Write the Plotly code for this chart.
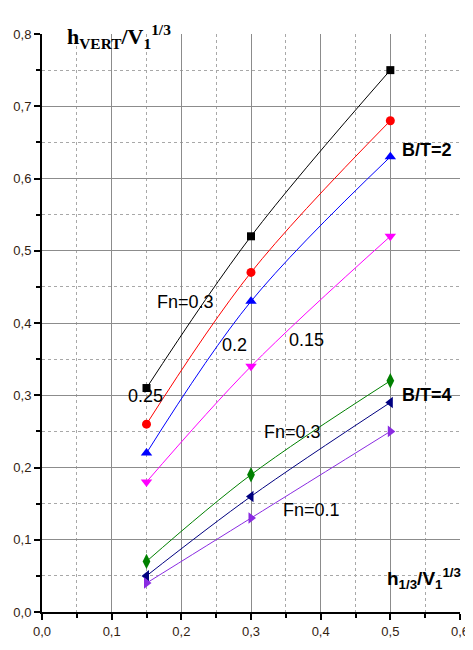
import plotly.graph_objects as go

x_vals = [0.15, 0.3, 0.5]

# B/T = 2 series
bt2_fn030 = [0.31, 0.52, 0.75]
bt2_fn025 = [0.26, 0.47, 0.68]
bt2_fn020 = [0.22, 0.43, 0.63]
bt2_fn015 = [0.18, 0.34, 0.52]

# B/T = 4 series
bt4_fn030 = [0.07, 0.19, 0.32]
bt4_fn020 = [0.05, 0.16, 0.29]
bt4_fn010 = [0.04, 0.13, 0.25]

series = [
    (bt2_fn030, "black", "square", 8),
    (bt2_fn025, "red", "circle", 9),
    (bt2_fn020, "blue", "triangle-up", 10),
    (bt2_fn015, "#ff00ff", "triangle-down", 10),
    (bt4_fn030, "green", "diamond-tall", 11),
    (bt4_fn020, "navy", "triangle-left", 10),
    (bt4_fn010, "#8a2be2", "triangle-right", 10),
]

fig = go.Figure()
for ys, col, sym, sz in series:
    fig.add_trace(go.Scatter(
        x=x_vals, y=ys, mode="lines+markers",
        line=dict(color=col, width=1, shape="spline"),
        marker=dict(symbol=sym, size=sz, color=col),
        showlegend=False,
    ))

ann_font = dict(family="Liberation Sans Narrow, Liberation Sans, Arial", size=18, color="black")
bold_font = dict(family="Liberation Sans, Arial", size=18, color="black")
annotations = [
    dict(x=0.162, y=0.429, text="Fn=0.3", xanchor="left", font=ann_font),
    dict(x=0.255, y=0.37, text="0.2", xanchor="left", font=ann_font),
    dict(x=0.352, y=0.377, text="0.15", xanchor="left", font=ann_font),
    dict(x=0.176, y=0.299, text="0.25", xanchor="right", font=ann_font),
    dict(x=0.316, y=0.249, text="Fn=0.3", xanchor="left", font=ann_font),
    dict(x=0.343, y=0.141, text="Fn=0.1", xanchor="left", font=ann_font),
    dict(x=0.514, y=0.64, text="<b>B/T=2</b>", xanchor="left", font=bold_font),
    dict(x=0.514, y=0.30, text="<b>B/T=4</b>", xanchor="left", font=bold_font),
]
for a in annotations:
    a.update(xref="x", yref="y", showarrow=False, yanchor="middle")
    fig.add_annotation(**a)

fig.add_annotation(
    xref="paper", yref="paper", x=0.055, y=0.995, xanchor="left", yanchor="middle",
    text="<b>h<sub>VERT</sub>/V<sub>1</sub><sup>1/3</sup></b>", showarrow=False,
    font=dict(family="Liberation Serif, Times New Roman", size=22, color="black"),
)
fig.add_annotation(
    xref="paper", yref="paper", x=1.006, y=0.058, xanchor="right", yanchor="middle",
    text="<b>h<sub>1/3</sub>/V<sub>1</sub><sup>1/3</sup></b>", showarrow=False,
    font=dict(family="Liberation Sans, Arial", size=19, color="black"),
)

axis_common = dict(
    showline=True, linecolor="black", linewidth=2, automargin=False,
    ticks="outside", ticklen=6, tickwidth=1.5, tickcolor="black",
    showgrid=True, gridcolor="#8c8c8c", gridwidth=1.3,
    zeroline=False, tickformat=".1f", dtick=0.1, tick0=0,
    tickfont=dict(family="Liberation Sans, Arial", size=13, color="#332211"),
    minor=dict(dtick=0.05, tick0=0, showgrid=True, griddash="dot", gridcolor="#a8a8a8",
               gridwidth=1, ticks="outside", ticklen=4, tickcolor="black"),
)

fig.update_xaxes(range=[0, 0.6], **axis_common)
fig.update_yaxes(range=[0, 0.8], **axis_common)

fig.update_layout(
    width=473, height=650,
    margin=dict(l=34, r=21, t=26, b=46),
    plot_bgcolor="white", paper_bgcolor="white",
    separators=",.",
    showlegend=False,
)

fig.write_html("out.html")
